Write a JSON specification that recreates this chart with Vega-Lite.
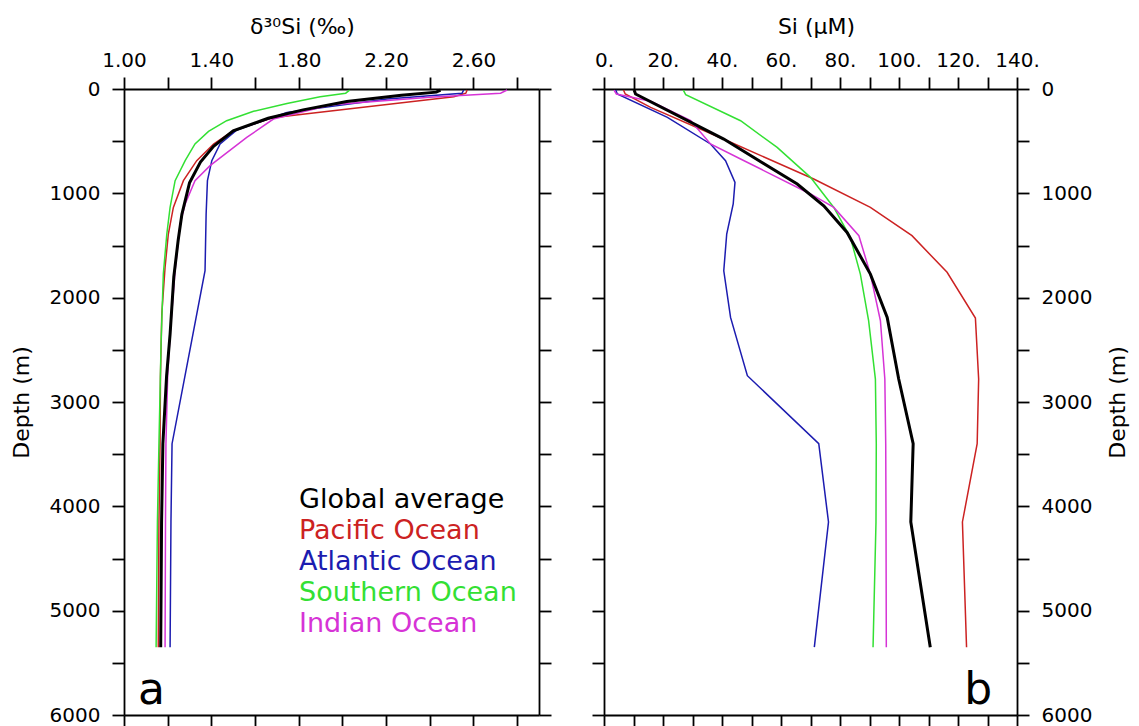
{
  "$schema": "https://vega.github.io/schema/vega-lite/v6.json",
  "background": "white",
  "padding": {"left": 10, "top": 15, "right": 5, "bottom": 0},
  "config": {
    "font": "DejaVu Sans",
    "view": {"stroke": null},
    "concat": {"spacing": 39},
    "axis": {"domainColor": "black", "domainWidth": 1.8, "tickColor": "black", "tickWidth": 1.8, "tickSize": 12, "labelColor": "black", "labelFont": "DejaVu Sans", "labelFontSize": 20, "titleFont": "DejaVu Sans", "titleFontSize": 22, "titleFontWeight": "normal", "titleColor": "black", "grid": false, "labelOverlap": false, "labelFlush": false, "labelBound": false}
  },
  "datasets": {
    "d30": [
      {"ocean":"Global average","depth":10,"value":2.449},{"ocean":"Global average","depth":30,"value":2.43},{"ocean":"Global average","depth":60,"value":2.27},{"ocean":"Global average","depth":120,"value":2.02},{"ocean":"Global average","depth":200,"value":1.82},{"ocean":"Global average","depth":280,"value":1.66},{"ocean":"Global average","depth":400,"value":1.5},{"ocean":"Global average","depth":550,"value":1.41},{"ocean":"Global average","depth":700,"value":1.35},{"ocean":"Global average","depth":900,"value":1.3},{"ocean":"Global average","depth":1200,"value":1.265},{"ocean":"Global average","depth":1450,"value":1.248},{"ocean":"Global average","depth":1800,"value":1.228},{"ocean":"Global average","depth":2350,"value":1.211},{"ocean":"Global average","depth":2750,"value":1.195},{"ocean":"Global average","depth":3400,"value":1.178},{"ocean":"Global average","depth":4150,"value":1.172},{"ocean":"Global average","depth":5350,"value":1.168},
      {"ocean":"Pacific Ocean","depth":10,"value":2.571},{"ocean":"Pacific Ocean","depth":40,"value":2.565},{"ocean":"Pacific Ocean","depth":75,"value":2.51},{"ocean":"Pacific Ocean","depth":275,"value":1.68},{"ocean":"Pacific Ocean","depth":400,"value":1.5},{"ocean":"Pacific Ocean","depth":527,"value":1.41},{"ocean":"Pacific Ocean","depth":687,"value":1.333},{"ocean":"Pacific Ocean","depth":879,"value":1.272},{"ocean":"Pacific Ocean","depth":1135,"value":1.226},{"ocean":"Pacific Ocean","depth":1390,"value":1.203},{"ocean":"Pacific Ocean","depth":1710,"value":1.188},{"ocean":"Pacific Ocean","depth":2157,"value":1.173},{"ocean":"Pacific Ocean","depth":2750,"value":1.167},{"ocean":"Pacific Ocean","depth":3400,"value":1.165},{"ocean":"Pacific Ocean","depth":4150,"value":1.16},{"ocean":"Pacific Ocean","depth":5350,"value":1.157},
      {"ocean":"Atlantic Ocean","depth":10,"value":2.555},{"ocean":"Atlantic Ocean","depth":40,"value":2.548},{"ocean":"Atlantic Ocean","depth":96,"value":2.204},{"ocean":"Atlantic Ocean","depth":224,"value":1.746},{"ocean":"Atlantic Ocean","depth":393,"value":1.517},{"ocean":"Atlantic Ocean","depth":527,"value":1.44},{"ocean":"Atlantic Ocean","depth":687,"value":1.402},{"ocean":"Atlantic Ocean","depth":879,"value":1.382},{"ocean":"Atlantic Ocean","depth":1198,"value":1.376},{"ocean":"Atlantic Ocean","depth":1742,"value":1.371},{"ocean":"Atlantic Ocean","depth":2412,"value":1.31},{"ocean":"Atlantic Ocean","depth":3400,"value":1.22},{"ocean":"Atlantic Ocean","depth":4150,"value":1.215},{"ocean":"Atlantic Ocean","depth":5350,"value":1.211},
      {"ocean":"Southern Ocean","depth":10,"value":2.033},{"ocean":"Southern Ocean","depth":40,"value":2.015},{"ocean":"Southern Ocean","depth":74,"value":1.898},{"ocean":"Southern Ocean","depth":138,"value":1.746},{"ocean":"Southern Ocean","depth":214,"value":1.593},{"ocean":"Southern Ocean","depth":304,"value":1.47},{"ocean":"Southern Ocean","depth":406,"value":1.387},{"ocean":"Southern Ocean","depth":527,"value":1.325},{"ocean":"Southern Ocean","depth":687,"value":1.28},{"ocean":"Southern Ocean","depth":879,"value":1.234},{"ocean":"Southern Ocean","depth":1135,"value":1.211},{"ocean":"Southern Ocean","depth":1390,"value":1.196},{"ocean":"Southern Ocean","depth":1773,"value":1.18},{"ocean":"Southern Ocean","depth":2412,"value":1.17},{"ocean":"Southern Ocean","depth":3400,"value":1.16},{"ocean":"Southern Ocean","depth":4150,"value":1.153},{"ocean":"Southern Ocean","depth":5350,"value":1.147},
      {"ocean":"Indian Ocean","depth":10,"value":2.754},{"ocean":"Indian Ocean","depth":40,"value":2.724},{"ocean":"Indian Ocean","depth":80,"value":2.4},{"ocean":"Indian Ocean","depth":150,"value":1.95},{"ocean":"Indian Ocean","depth":288,"value":1.684},{"ocean":"Indian Ocean","depth":464,"value":1.562},{"ocean":"Indian Ocean","depth":735,"value":1.394},{"ocean":"Indian Ocean","depth":879,"value":1.325},{"ocean":"Indian Ocean","depth":1102,"value":1.28},{"ocean":"Indian Ocean","depth":1294,"value":1.257},{"ocean":"Indian Ocean","depth":1742,"value":1.234},{"ocean":"Indian Ocean","depth":2348,"value":1.211},{"ocean":"Indian Ocean","depth":2750,"value":1.2},{"ocean":"Indian Ocean","depth":3400,"value":1.192},{"ocean":"Indian Ocean","depth":4150,"value":1.19},{"ocean":"Indian Ocean","depth":5350,"value":1.188}
    ],
    "si": [
      {"ocean":"Global average","depth":10,"value":10.2},{"ocean":"Global average","depth":48,"value":10.7},{"ocean":"Global average","depth":480,"value":40.6},{"ocean":"Global average","depth":911,"value":65.5},{"ocean":"Global average","depth":1119,"value":74.5},{"ocean":"Global average","depth":1375,"value":82.4},{"ocean":"Global average","depth":1774,"value":90.3},{"ocean":"Global average","depth":2189,"value":96},{"ocean":"Global average","depth":2780,"value":99.9},{"ocean":"Global average","depth":3400,"value":104.8},{"ocean":"Global average","depth":4150,"value":104},{"ocean":"Global average","depth":5350,"value":110.6},
      {"ocean":"Pacific Ocean","depth":10,"value":6.6},{"ocean":"Pacific Ocean","depth":48,"value":7.2},{"ocean":"Pacific Ocean","depth":176,"value":15.8},{"ocean":"Pacific Ocean","depth":496,"value":41.8},{"ocean":"Pacific Ocean","depth":863,"value":71.1},{"ocean":"Pacific Ocean","depth":1135,"value":90.3},{"ocean":"Pacific Ocean","depth":1406,"value":104.4},{"ocean":"Pacific Ocean","depth":1757,"value":116.3},{"ocean":"Pacific Ocean","depth":2195,"value":125.9},{"ocean":"Pacific Ocean","depth":2780,"value":127},{"ocean":"Pacific Ocean","depth":3400,"value":126.5},{"ocean":"Pacific Ocean","depth":4150,"value":121.5},{"ocean":"Pacific Ocean","depth":5350,"value":122.9},
      {"ocean":"Atlantic Ocean","depth":10,"value":4},{"ocean":"Atlantic Ocean","depth":48,"value":4.5},{"ocean":"Atlantic Ocean","depth":272,"value":21.5},{"ocean":"Atlantic Ocean","depth":527,"value":36.1},{"ocean":"Atlantic Ocean","depth":687,"value":41.2},{"ocean":"Atlantic Ocean","depth":895,"value":44.4},{"ocean":"Atlantic Ocean","depth":1102,"value":43.8},{"ocean":"Atlantic Ocean","depth":1390,"value":41.6},{"ocean":"Atlantic Ocean","depth":1742,"value":40.6},{"ocean":"Atlantic Ocean","depth":2189,"value":42.9},{"ocean":"Atlantic Ocean","depth":2748,"value":48.6},{"ocean":"Atlantic Ocean","depth":3400,"value":72.8},{"ocean":"Atlantic Ocean","depth":4150,"value":76.1},{"ocean":"Atlantic Ocean","depth":5350,"value":71.3},
      {"ocean":"Southern Ocean","depth":10,"value":26.9},{"ocean":"Southern Ocean","depth":55,"value":27.7},{"ocean":"Southern Ocean","depth":304,"value":46.3},{"ocean":"Southern Ocean","depth":560,"value":58.7},{"ocean":"Southern Ocean","depth":847,"value":70},{"ocean":"Southern Ocean","depth":1135,"value":77.9},{"ocean":"Southern Ocean","depth":1422,"value":83.5},{"ocean":"Southern Ocean","depth":1774,"value":86.9},{"ocean":"Southern Ocean","depth":2221,"value":89.7},{"ocean":"Southern Ocean","depth":2780,"value":92},{"ocean":"Southern Ocean","depth":3400,"value":92.3},{"ocean":"Southern Ocean","depth":4150,"value":92.2},{"ocean":"Southern Ocean","depth":5350,"value":91.2},
      {"ocean":"Indian Ocean","depth":10,"value":3.4},{"ocean":"Indian Ocean","depth":48,"value":4.2},{"ocean":"Indian Ocean","depth":118,"value":15.8},{"ocean":"Indian Ocean","depth":304,"value":29.4},{"ocean":"Indian Ocean","depth":527,"value":36.1},{"ocean":"Indian Ocean","depth":671,"value":46.3},{"ocean":"Indian Ocean","depth":1006,"value":70},{"ocean":"Indian Ocean","depth":1135,"value":77.9},{"ocean":"Indian Ocean","depth":1406,"value":86.4},{"ocean":"Indian Ocean","depth":1774,"value":90.3},{"ocean":"Indian Ocean","depth":2221,"value":93.7},{"ocean":"Indian Ocean","depth":2780,"value":95.2},{"ocean":"Indian Ocean","depth":3400,"value":95.5},{"ocean":"Indian Ocean","depth":4150,"value":95.6},{"ocean":"Indian Ocean","depth":5350,"value":95.7}
    ]
  },
  "resolve": {"scale": {"color": "independent"}, "legend": {"color": "independent"}},
  "hconcat": [
    {
      "width": 415,
      "height": 626,
      "resolve": {"axis": {"x": "independent", "y": "independent"}},
      "layer": [
        {
          "data": {"name": "d30"},
          "transform": [{"filter": "datum.ocean !== 'Global average'"}],
          "mark": {"type": "line", "strokeWidth": 1.5},
          "encoding": {
            "x": {
              "field": "value",
              "type": "quantitative",
              "scale": {"domain": [1, 2.9], "nice": false, "zero": false},
              "axis": {
                "orient": "top",
                "title": "δ³⁰Si  (‰)",
                "titleX": 178,
                "titleAlign": "center",
                "titlePadding": 12,
                "labelPadding": 7,
                "values": [1, 1.2, 1.4, 1.6, 1.8, 2, 2.2, 2.4, 2.6, 2.8],
                "labelExpr": "(round(datum.value * 10) % 4 === 2) ? format(datum.value, '.2f') : ''"
              }
            },
            "y": {
              "field": "depth",
              "type": "quantitative",
              "scale": {"domain": [0, 6000], "reverse": true, "nice": false, "zero": false},
              "axis": {
                "orient": "left",
                "title": "Depth (m)",
                "titlePadding": 16,
                "labelPadding": 12,
                "values": [0, 500, 1000, 1500, 2000, 2500, 3000, 3500, 4000, 4500, 5000, 5500, 6000],
                "labelExpr": "datum.value % 1000 === 0 ? format(datum.value, 'd') : ''"
              }
            },
            "color": {
              "field": "ocean",
              "type": "nominal",
              "scale": {
                "domain": ["Global average", "Pacific Ocean", "Atlantic Ocean", "Southern Ocean", "Indian Ocean"],
                "range": ["#000000", "#cc2222", "#1c1cb0", "#33e033", "#d633d6"]
              },
              "legend": {
                "orient": "none",
                "legendX": 148,
                "legendY": 397,
                "title": null,
                "symbolType": "stroke",
                "symbolSize": 0,
                "symbolStrokeWidth": 0,
                "symbolOpacity": 0,
                "labelOffset": 0,
                "labelFontSize": 27,
                "labelFont": "DejaVu Sans",
                "rowPadding": 3,
                "labelLimit": 400,
                "encode": {
                  "labels": {
                    "update": {
                      "fill": {
                        "signal": "datum.value === 'Pacific Ocean' ? '#cc2222' : datum.value === 'Atlantic Ocean' ? '#1c1cb0' : datum.value === 'Southern Ocean' ? '#33e033' : datum.value === 'Indian Ocean' ? '#d633d6' : '#000000'"
                      }
                    }
                  }
                }
              }
            },
            "order": {"field": "depth", "type": "quantitative"}
          }
        },
        {
          "data": {"name": "d30"},
          "transform": [{"filter": "datum.ocean === 'Global average'"}],
          "mark": {"type": "line", "strokeWidth": 3},
          "encoding": {
            "x": {
              "field": "value",
              "type": "quantitative",
              "axis": {"orient": "bottom", "title": null, "labels": false, "values": [1, 1.2, 1.4, 1.6, 1.8, 2, 2.2, 2.4, 2.6, 2.8]}
            },
            "y": {
              "field": "depth",
              "type": "quantitative",
              "axis": {"orient": "right", "title": null, "labels": false, "values": [0, 500, 1000, 1500, 2000, 2500, 3000, 3500, 4000, 4500, 5000, 5500, 6000]}
            },
            "color": {"field": "ocean", "type": "nominal"},
            "order": {"field": "depth", "type": "quantitative"}
          }
        },
        {
          "data": {"values": [{"panel": "a"}]},
          "mark": {"type": "text", "fontSize": 44, "align": "left", "baseline": "alphabetic", "color": "black"},
          "encoding": {
            "x": {"datum": 1.064, "type": "quantitative", "axis": null},
            "y": {"datum": 5890, "type": "quantitative", "axis": null},
            "text": {"field": "panel"}
          }
        }
      ]
    },
    {
      "width": 413,
      "height": 626,
      "resolve": {"axis": {"x": "independent", "y": "independent"}},
      "layer": [
        {
          "data": {"name": "si"},
          "transform": [{"filter": "datum.ocean !== 'Global average'"}],
          "mark": {"type": "line", "strokeWidth": 1.5},
          "encoding": {
            "x": {
              "field": "value",
              "type": "quantitative",
              "scale": {"domain": [0, 140], "nice": false},
              "axis": {
                "orient": "top",
                "title": "Si (μM)",
                "titleX": 212,
                "titleAlign": "center",
                "titlePadding": 12,
                "labelPadding": 7,
                "values": [0, 10, 20, 30, 40, 50, 60, 70, 80, 90, 100, 110, 120, 130, 140],
                "labelExpr": "datum.value % 20 === 0 ? format(datum.value, 'd') + '.' : ''"
              }
            },
            "y": {
              "field": "depth",
              "type": "quantitative",
              "scale": {"domain": [0, 6000], "reverse": true, "nice": false, "zero": false},
              "axis": {
                "orient": "right",
                "title": "Depth (m)",
                "titleAngle": 270,
                "titleBaseline": "top",
                "titlePadding": 16,
                "labelPadding": 12,
                "values": [0, 500, 1000, 1500, 2000, 2500, 3000, 3500, 4000, 4500, 5000, 5500, 6000],
                "labelExpr": "datum.value % 1000 === 0 ? format(datum.value, 'd') : ''"
              }
            },
            "color": {
              "field": "ocean",
              "type": "nominal",
              "scale": {
                "domain": ["Global average", "Pacific Ocean", "Atlantic Ocean", "Southern Ocean", "Indian Ocean"],
                "range": ["#000000", "#cc2222", "#1c1cb0", "#33e033", "#d633d6"]
              },
              "legend": null
            },
            "order": {"field": "depth", "type": "quantitative"}
          }
        },
        {
          "data": {"name": "si"},
          "transform": [{"filter": "datum.ocean === 'Global average'"}],
          "mark": {"type": "line", "strokeWidth": 3},
          "encoding": {
            "x": {
              "field": "value",
              "type": "quantitative",
              "axis": {"orient": "bottom", "title": null, "labels": false, "values": [0, 10, 20, 30, 40, 50, 60, 70, 80, 90, 100, 110, 120, 130, 140]}
            },
            "y": {
              "field": "depth",
              "type": "quantitative",
              "axis": {"orient": "left", "title": null, "labels": false, "values": [0, 500, 1000, 1500, 2000, 2500, 3000, 3500, 4000, 4500, 5000, 5500, 6000]}
            },
            "color": {"field": "ocean", "type": "nominal", "legend": null},
            "order": {"field": "depth", "type": "quantitative"}
          }
        },
        {
          "data": {"values": [{"panel": "b"}]},
          "mark": {"type": "text", "fontSize": 44, "align": "right", "baseline": "alphabetic", "color": "black"},
          "encoding": {
            "x": {"datum": 131.6, "type": "quantitative", "axis": null},
            "y": {"datum": 5890, "type": "quantitative", "axis": null},
            "text": {"field": "panel"}
          }
        }
      ]
    }
  ]
}
